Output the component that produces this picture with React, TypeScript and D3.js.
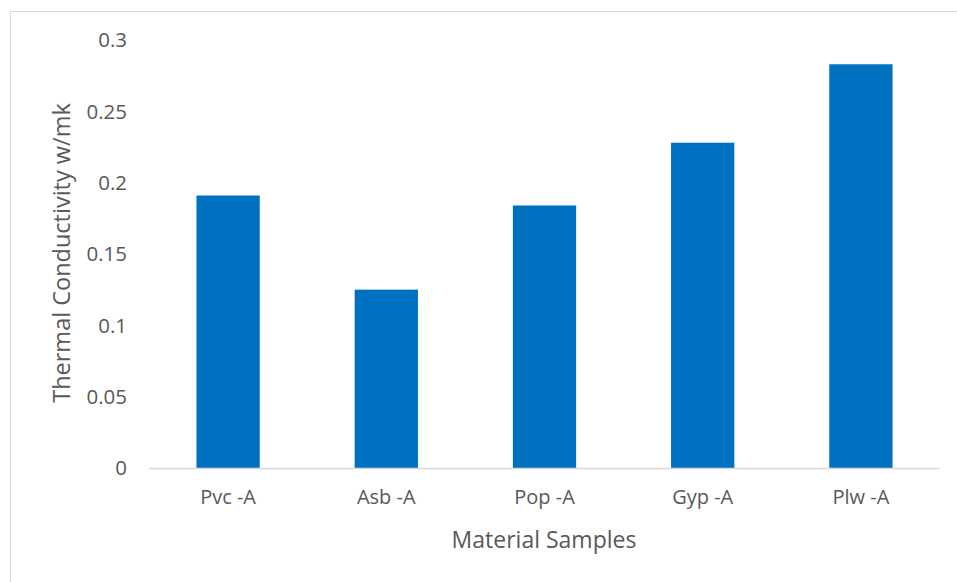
import React from "react";
import * as d3 from "d3";

const categories = ["Pvc -A", "Asb -A", "Pop -A", "Gyp -A", "Plw -A"];
const values = [0.191, 0.125, 0.184, 0.228, 0.283];
const yTicks = [0, 0.05, 0.1, 0.15, 0.2, 0.25, 0.3];
const yTickLabels = ["0", "0.05", "0.1", "0.15", "0.2", "0.25", "0.3"];
const xTitle = "Material Samples";
const yTitle = "Thermal Conductivity w/mk";

const W = 957;
const H = 582;
const left = 149;
const right = 940;
const top = 40;
const bottom = 468;
const font = "'Open Sans', 'Noto Sans', sans-serif";
const textColor = "#595959";

export default function App() {
  const x = d3.scaleBand<string>().domain(categories).range([left, right]).paddingInner(0.6).paddingOuter(0.3);
  const y = d3.scaleLinear().domain([0, 0.3]).range([bottom, top]);
  return (
    <svg width={W} height={H} style={{ position: "absolute", left: 0, top: 0 }}>
      <rect x={0} y={0} width={W} height={H} fill="#fff" />
      <rect x={10.5} y={11.5} width={W + 20} height={H + 20} fill="none" stroke="#d9d9d9" strokeWidth={1} />
      {categories.map((c, i) => (
        <rect key={c} x={x(c)} y={y(values[i])} width={x.bandwidth()} height={bottom - y(values[i])} fill="#0070C0" />
      ))}
      <line x1={left} x2={right} y1={bottom + 0.5} y2={bottom + 0.5} stroke="#d9d9d9" strokeWidth={1.5} />
      {yTicks.map((t, i) => (
        <text key={t} x={127} y={y(t)} dy="0.35em" textAnchor="end" fontFamily={font} fontSize={20.5} fill={textColor}>
          {yTickLabels[i]}
        </text>
      ))}
      {categories.map((c) => (
        <text key={c} x={(x(c) as number) + x.bandwidth() / 2} y={497} dy="0.35em" textAnchor="middle" fontFamily={font} fontSize={20} fill={textColor}>
          {c}
        </text>
      ))}
      <text x={544} y={540} dy="0.35em" textAnchor="middle" fontFamily={font} fontSize={23} fill={textColor}>
        {xTitle}
      </text>
      <text transform={`translate(62,253) rotate(-90)`} dy="0.35em" textAnchor="middle" fontFamily={font} fontSize={23.5} fill={textColor}>
        {yTitle}
      </text>
    </svg>
  );
}
